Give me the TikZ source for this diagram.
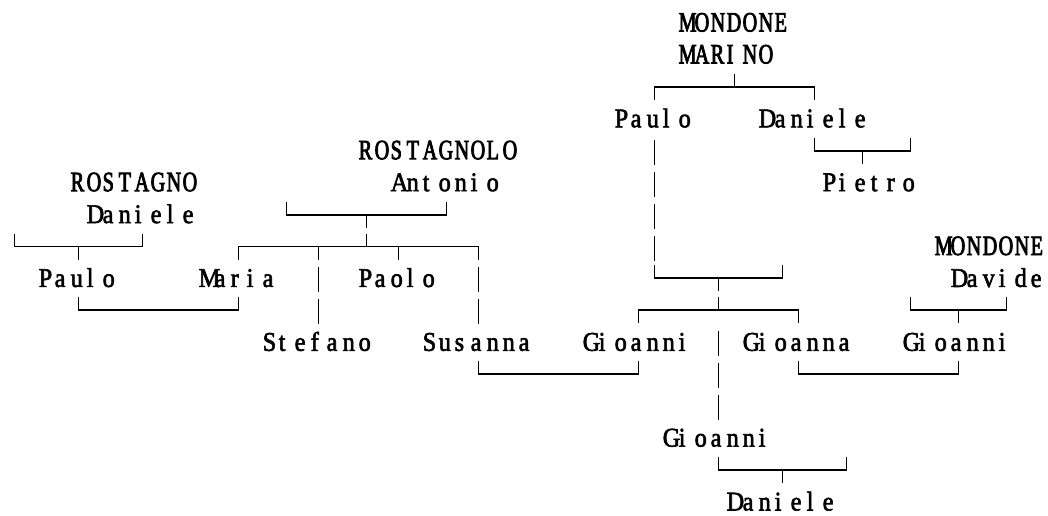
\documentclass[tikz,border=0pt]{standalone}
\usepackage{fontspec}
\newfontfamily\gridfont[FakeBold=2.2,FakeStretch=0.9]{Liberation Serif}
\newfontfamily\capsfont[FakeBold=2.8,FakeStretch=0.72]{Liberation Serif}
\makeatletter
\def\gridtext#1{\grid@a#1\relax}
\def\grid@a#1{\ifx\relax#1\else\hbox to 16pt{#1\hss}\expandafter\grid@a\fi}
\makeatother
\newcommand\person[4]{\node[nm] (#1) at ({tx(#2)},{ry(#3)+8.5}) {\gridtext{#4}};}
\newcommand\family[4]{\node[nm,capsname] (#1) at ({tx(#2)},{ry(#3)+8.5}) {\gridtext{#4}};}
\newcommand\vbar[2]{\draw[ln] ({cx(#1)},{ry(#2)-11}) -- ({cx(#1)},{ry(#2)+14});}
\newcommand\stemdown[2]{\draw[ln] ({cx(#1)},{ry(#2)}) -- ({cx(#1)},{ry(#2)+13});}
\newcommand\stemup[2]{\draw[ln] ({cx(#1)},{ry(#2)-13}) -- ({cx(#1)},{ry(#2)});}
\newcommand\brdown[3]{\draw[ln] ({cx(#2)},{ry(#1)+13}) -- ({cx(#2)},{ry(#1)}) -- ({cx(#3)},{ry(#1)}) -- ({cx(#3)},{ry(#1)+13});}
\newcommand\brup[3]{\draw[ln] ({cx(#2)},{ry(#1)-13}) -- ({cx(#2)},{ry(#1)}) -- ({cx(#3)},{ry(#1)}) -- ({cx(#3)},{ry(#1)-13});}
\begin{document}
\begin{tikzpicture}[x=1pt,y=-1pt,
  declare function={cx(\x)=14.5+16*\x; ry(\x)=23+31.93*\x; tx(\x)=6.5+16*\x;},
  ln/.style={line width=1.9pt, line join=miter},
  nm/.style={anchor=base west, inner sep=0pt, font=\gridfont\fontsize{27pt}{27pt}\selectfont},
  capsname/.style={font=\capsfont\fontsize{28pt}{28pt}\selectfont}]
\useasboundingbox[fill=white] (0,0) rectangle (1048,515);
% people
\family{mondoneA}{42}{0}{MONDONE}
\family{marino}{42}{1}{MARINO}
\person{pauloM}{38}{3}{Paulo}
\person{danieleM}{47}{3}{Daniele}
\family{rostagnolo}{22}{4}{ROSTAGNOLO}
\family{rostagno}{4}{5}{ROSTAGNO}
\person{antonio}{24}{5}{Antonio}
\person{pietro}{51}{5}{Pietro}
\person{danieleR}{5}{6}{Daniele}
\family{mondoneB}{58}{7}{MONDONE}
\person{pauloR}{2}{8}{Paulo}
\person{maria}{12}{8}{Maria}
\person{paolo}{22}{8}{Paolo}
\person{davide}{59}{8}{Davide}
\person{stefano}{16}{10}{Stefano}
\person{susanna}{26}{10}{Susanna}
\person{gioanniA}{36}{10}{Gioanni}
\person{gioanna}{46}{10}{Gioanna}
\person{gioanniB}{56}{10}{Gioanni}
\person{gioanniC}{41}{13}{Gioanni}
\person{danieleG}{45}{15}{Daniele}
% connectors
\brdown{2}{40}{50}\stemup{45}{2}
\vbar{40}{4}\vbar{40}{5}\vbar{40}{6}\vbar{40}{7}
\brup{8}{40}{48}\stemdown{44}{8}
\brup{4}{50}{56}\stemdown{53}{4}
\brup{6}{17}{27}\stemdown{22}{6}
\brup{7}{0}{8}\stemdown{4}{7}
\brdown{7}{14}{29}\stemdown{19}{7}\stemdown{24}{7}\stemup{22}{7}
\vbar{19}{8}\vbar{29}{8}
\brup{9}{4}{14}
\vbar{19}{9}\vbar{29}{9}
\brdown{9}{39}{49}\stemup{44}{9}
\brup{9}{56}{62}\stemdown{59}{9}
\vbar{44}{10}
\brup{11}{29}{39}\vbar{44}{11}\brup{11}{49}{59}
\vbar{44}{12}
\brup{14}{44}{52}\stemdown{48}{14}
\end{tikzpicture}
\end{document}
